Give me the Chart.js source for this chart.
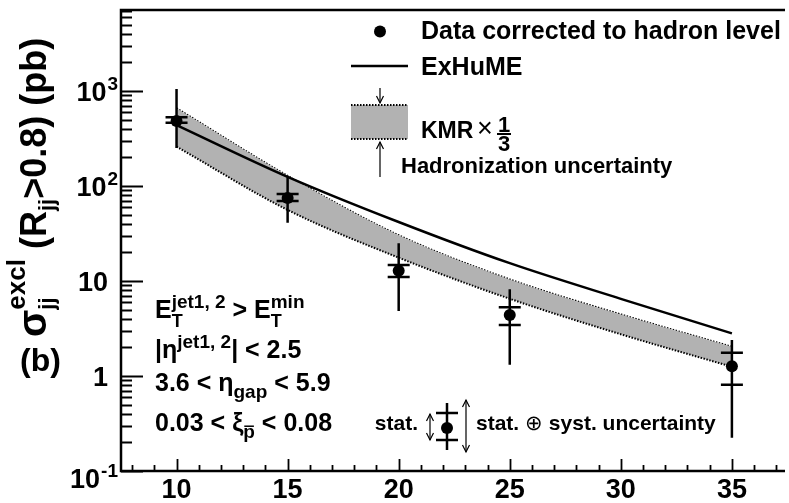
<!DOCTYPE html>
<html>
<head>
<meta charset="utf-8">
<script src="https://cdn.jsdelivr.net/npm/chart.js@4.4.1/dist/chart.umd.min.js"></script>
<style>
	body { margin: 0; background: #fff; }
	#chart-sigma { display: block; }
</style>
</head>
<body>
<canvas id="chart-sigma" width="789" height="503"></canvas>
<script>
// measured points (E_T^min in GeV, cross section in pb)
const etBins = [10, 15, 20, 25, 35];
const sigmaData = [483, 74.8, 12.8, 4.38, 1.27];
const statHi = [528, 82.4, 14.7, 5.28, 1.76];
const statLo = [464, 69.5, 11.0, 3.44, 0.81];
const totHi = [1050, 124, 24.9, 8.2, 2.39];
const totLo = [251, 41, 4.83, 1.31, 0.224];

// theory curves
const modelEt = [10, 15, 20, 25, 30, 35];
const exhumeSigma = [438, 125, 41.8, 15.4, 6.49, 2.81];
const kmrUpper = [658, 128, 30.3, 10.4, 4.45, 2.03];
const kmrLower = [260, 56, 17.6, 6.5, 2.75, 1.25];

// axis
const xTickLabels = [10, 15, 20, 25, 30, 35];
const yTickValues = [0.1, 1, 10, 100, 1000];
const yTickLabels = [['10', '-1'], ['1', ''], ['10', ''], ['10', '2'], ['10', '3']];

const fontFamily = '"Liberation Sans", Arial, Helvetica, sans-serif';
function fnt(size, weight) {
	return (weight || 'bold') + ' ' + size + 'px ' + fontFamily;
}

// text with sub / superscripts, parts = [{t, s, dy, stay, w, bar}]
function rich(ctx, x, y, parts) {
	var cx = x;
	parts.forEach(function(p) {
		ctx.font = fnt(p.s, p.w);
		ctx.fillText(p.t, cx, y + (p.dy || 0));
		var w = ctx.measureText(p.t).width;
		if (p.bar) {
			ctx.lineWidth = 1.5;
			ctx.beginPath();
			ctx.moveTo(cx + 1, y + (p.dy || 0) - p.s * 0.62);
			ctx.lineTo(cx + w - 1, y + (p.dy || 0) - p.s * 0.62);
			ctx.stroke();
		}
		if (!p.stay) cx += w;
	});
	return cx;
}

function arrowHead(ctx, x, y, dir) {
	// dir = 1 points down, -1 points up
	ctx.beginPath();
	ctx.moveTo(x - 3.5, y - dir * 7);
	ctx.lineTo(x, y);
	ctx.lineTo(x + 3.5, y - dir * 7);
	ctx.stroke();
}

function dottedLine(ctx, x1, y1, x2, y2) {
	ctx.save();
	ctx.setLineDash([1.5, 1.5]);
	ctx.lineWidth = 2;
	ctx.beginPath();
	ctx.moveTo(x1, y1);
	ctx.lineTo(x2, y2);
	ctx.stroke();
	ctx.restore();
}

var rootStyle = {
	id: 'rootStyle',
	afterDatasetsDraw: function(chart) {
		var ctx = chart.ctx;
		var xs = chart.scales.x, ys = chart.scales.y;
		ctx.save();
		ctx.strokeStyle = '#000';
		ctx.fillStyle = '#000';
		ctx.lineWidth = 2.5;

		// error bars: full line = stat+syst, caps = stat
		etBins.forEach(function(e, i) {
			var px = xs.getPixelForValue(e);
			ctx.lineWidth = 2.5;
			ctx.beginPath();
			ctx.moveTo(px, ys.getPixelForValue(totHi[i]));
			ctx.lineTo(px, ys.getPixelForValue(totLo[i]));
			[statHi[i], statLo[i]].forEach(function(v) {
				var py = ys.getPixelForValue(v);
				ctx.moveTo(px - 11, py);
				ctx.lineTo(px + 11, py);
			});
			ctx.stroke();
		});
		ctx.restore();
	},
	afterDraw: function(chart) {
		var ctx = chart.ctx;
		var a = chart.chartArea;
		var xs = chart.scales.x, ys = chart.scales.y;
		ctx.save();
		ctx.strokeStyle = '#000';
		ctx.fillStyle = '#000';

		// frame
		ctx.lineWidth = 2.5;
		ctx.beginPath();
		ctx.moveTo(a.right + 2, a.top);
		ctx.lineTo(a.left, a.top);
		ctx.lineTo(a.left, a.bottom);
		ctx.lineTo(a.right + 2, a.bottom);
		ctx.stroke();

		// y ticks (inside)
		ctx.lineWidth = 1.8;
		ctx.beginPath();
		for (var e = -1; e <= 3; e++) {
			for (var m = 1; m <= 9; m++) {
				var v = m * Math.pow(10, e);
				if (v > ys.max) break;
				var py = Math.round(ys.getPixelForValue(v)) + 0.5;
				ctx.moveTo(a.left, py);
				ctx.lineTo(a.left + (m === 1 ? 22 : 11), py);
			}
		}
		// x ticks
		for (var t = Math.ceil(xs.min); t <= xs.max; t++) {
			var px = Math.round(xs.getPixelForValue(t)) + 0.5;
			ctx.moveTo(px, a.bottom);
			ctx.lineTo(px, a.bottom - (t % 5 === 0 ? 12 : 6));
		}
		ctx.stroke();

		// x tick labels
		ctx.textAlign = 'center';
		ctx.textBaseline = 'alphabetic';
		ctx.font = fnt(27);
		xTickLabels.forEach(function(v) {
			ctx.fillText(String(v), xs.getPixelForValue(v), 498);
		});

		// y tick labels
		ctx.textAlign = 'left';
		yTickValues.forEach(function(v, i) {
			var py = ys.getPixelForValue(v);
			if (py > a.bottom - 3) py += 7;
			var base = yTickLabels[i][0], ex = yTickLabels[i][1];
			ctx.font = fnt(27);
			var wb = ctx.measureText(base).width;
			if (ex) {
				ctx.font = fnt(19);
				var we = ctx.measureText(ex).width;
				var x0 = 117 - wb - we;
				ctx.font = fnt(27);
				ctx.fillText(base, x0, py + 9.5);
				ctx.font = fnt(19);
				ctx.fillText(ex, x0 + wb + 1, py - 1);
			} else {
				ctx.fillText(base, 108 - wb, py + 9.5);
			}
		});

		// y axis title
		ctx.save();
		ctx.translate(46, 337);
		ctx.rotate(-Math.PI / 2);
		rich(ctx, 0, 0, [
			{t: 'σ', s: 40},
			{t: 'jj', s: 22, dy: 8, stay: true},
			{t: 'excl', s: 26, dy: -21},
			{t: ' (R', s: 36},
			{t: 'jj', s: 22, dy: 8},
			{t: '>0.8) (pb)', s: 36}
		]);
		ctx.restore();

		// (b)
		ctx.font = fnt(32);
		ctx.fillText('(b)', 20, 371);

		// cuts
		rich(ctx, 155, 318, [
			{t: 'E', s: 25},
			{t: 'T', s: 18, dy: 9, stay: true},
			{t: 'jet1, 2', s: 19, dy: -10},
			{t: ' > E', s: 25},
			{t: 'T', s: 18, dy: 9, stay: true},
			{t: 'min', s: 19, dy: -10}
		]);
		rich(ctx, 155, 358, [
			{t: '|η', s: 25},
			{t: 'jet1, 2', s: 19, dy: -10},
			{t: '| < 2.5', s: 25}
		]);
		rich(ctx, 155, 391, [
			{t: '3.6 < η', s: 25},
			{t: 'gap', s: 19, dy: 7},
			{t: ' < 5.9', s: 25}
		]);
		rich(ctx, 155, 431, [
			{t: '0.03 < ξ', s: 25},
			{t: 'p', s: 19, dy: 7, bar: true},
			{t: ' < 0.08', s: 25}
		]);

		// legend
		ctx.beginPath();
		ctx.arc(380, 31.5, 6, 0, Math.PI * 2);
		ctx.fill();
		ctx.font = fnt(25);
		ctx.fillText('Data corrected to hadron level', 421, 38.5);

		ctx.lineWidth = 2.5;
		ctx.beginPath();
		ctx.moveTo(351, 66);
		ctx.lineTo(408, 66);
		ctx.stroke();
		ctx.fillText('ExHuME', 421, 74.5);

		ctx.fillStyle = '#b2b2b2';
		ctx.fillRect(351, 105, 57, 34);
		ctx.fillStyle = '#000';
		dottedLine(ctx, 351, 105, 408, 105);
		dottedLine(ctx, 351, 139, 408, 139);
		ctx.lineWidth = 1.2;
		ctx.beginPath();
		ctx.moveTo(380, 88);
		ctx.lineTo(380, 103);
		ctx.moveTo(380, 142);
		ctx.lineTo(380, 177);
		ctx.stroke();
		arrowHead(ctx, 380, 103, 1);
		arrowHead(ctx, 380, 142, -1);

		ctx.font = fnt(23);
		ctx.fillText('KMR', 421, 138);
		ctx.font = fnt(27, 'normal');
		ctx.fillText('×', 477, 137);
		ctx.font = fnt(22);
		ctx.textAlign = 'center';
		ctx.fillText('1', 504, 132);
		ctx.fillText('3', 504, 151);
		ctx.textAlign = 'left';
		ctx.lineWidth = 2;
		ctx.beginPath();
		ctx.moveTo(497, 134);
		ctx.lineTo(511, 134);
		ctx.stroke();

		ctx.font = fnt(22);
		ctx.fillText('Hadronization uncertainty', 401, 173);

		// stat legend
		ctx.font = fnt(21);
		ctx.textAlign = 'right';
		ctx.fillText('stat.', 418, 430);
		ctx.textAlign = 'left';
		ctx.lineWidth = 1.2;
		ctx.beginPath();
		ctx.moveTo(430, 414);
		ctx.lineTo(430, 440);
		ctx.moveTo(466, 400);
		ctx.lineTo(466, 452);
		ctx.stroke();
		arrowHead(ctx, 430, 414, -1);
		arrowHead(ctx, 430, 440, 1);
		arrowHead(ctx, 466, 400, -1);
		arrowHead(ctx, 466, 452, 1);
		ctx.lineWidth = 2.5;
		ctx.beginPath();
		ctx.moveTo(447, 403);
		ctx.lineTo(447, 450);
		ctx.moveTo(436, 413);
		ctx.lineTo(458, 413);
		ctx.moveTo(436, 440);
		ctx.lineTo(458, 440);
		ctx.stroke();
		ctx.beginPath();
		ctx.arc(447, 428, 6, 0, Math.PI * 2);
		ctx.fill();
		rich(ctx, 476, 430, [
			{t: 'stat. ', s: 21},
			{t: '⊕', s: 21, w: 'normal'},
			{t: ' syst. uncertainty', s: 21}
		]);

		ctx.restore();
	}
};

var ctx = document.getElementById('chart-sigma').getContext('2d');
var chartSigma = new Chart(ctx, {
	type: 'line',
	data: {
		datasets: [{
			label: 'KMR upper',
			data: modelEt.map(function(e, i) { return {x: e, y: kmrUpper[i]}; }),
			borderColor: '#000',
			borderWidth: 2,
			borderDash: [1.5, 1.5],
			pointRadius: 0,
			fill: false,
			cubicInterpolationMode: 'monotone',
			order: 4
		}, {
			label: 'KMR lower',
			data: modelEt.map(function(e, i) { return {x: e, y: kmrLower[i]}; }),
			borderColor: '#000',
			borderWidth: 2,
			borderDash: [1.5, 1.5],
			backgroundColor: '#b2b2b2',
			pointRadius: 0,
			fill: '-1',
			cubicInterpolationMode: 'monotone',
			order: 3
		}, {
			label: 'ExHuME',
			data: modelEt.map(function(e, i) { return {x: e, y: exhumeSigma[i]}; }),
			borderColor: '#000',
			borderWidth: 2.5,
			pointRadius: 0,
			fill: false,
			cubicInterpolationMode: 'monotone',
			order: 2
		}, {
			label: 'Data',
			data: etBins.map(function(e, i) { return {x: e, y: sigmaData[i]}; }),
			showLine: false,
			pointRadius: 6,
			pointBackgroundColor: '#000',
			pointBorderWidth: 0,
			order: 1
		}]
	},
	options: {
		responsive: false,
		animation: false,
		devicePixelRatio: 1,
		layout: { padding: { left: 121, top: 10, right: 0, bottom: 32 } },
		plugins: {
			legend: { display: false },
			tooltip: { enabled: false },
			filler: { propagate: false }
		},
		scales: {
			x: { type: 'linear', min: 7.5, max: 37.3, display: false },
			y: { type: 'logarithmic', min: 0.1, max: 7124, bounds: 'data', display: false }
		}
	},
	plugins: [rootStyle]
});
</script>
</body>
</html>
